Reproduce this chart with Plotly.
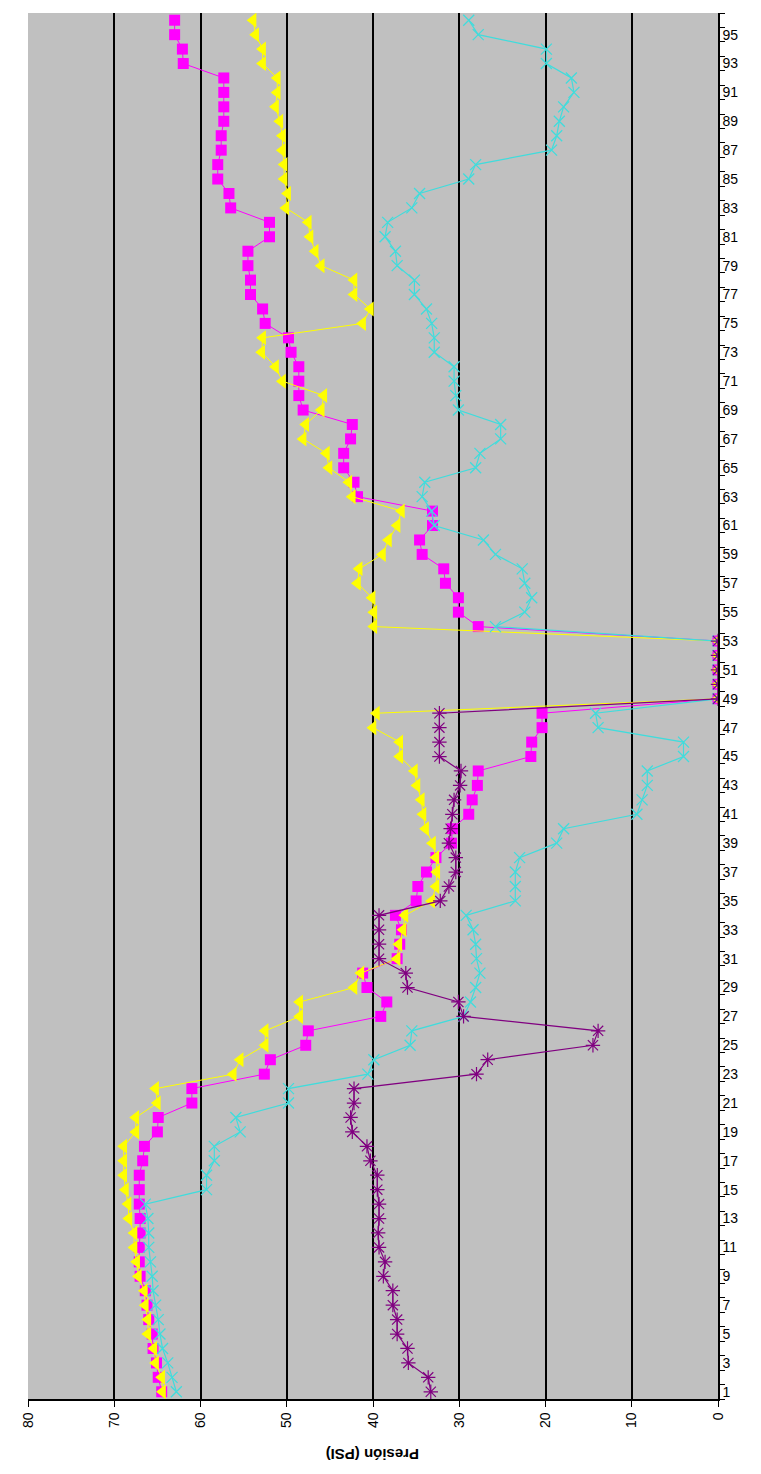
import plotly.graph_objects as go

# Categories 1..96
categorias = list(range(1, 97))
etiquetas = [str(i) for i in range(1, 96, 2)]
valores_etiquetas = list(range(1, 96, 2))

magenta = [64.5, 64.9, 65.1, 65.5, 65.6, 66.0, 66.2, 66.4, 67.0, 67.1,
           67.1, 67.0, 67.0, 67.1, 67.1, 67.1, 66.7, 66.5, 65.0, 64.9,
           61.0, 61.0, 52.6, 51.9, 47.8, 47.5, 39.1, 38.4, 40.7, 41.2,
           37.2, 36.9, 36.7, 37.4, 35.0, 34.8, 33.8, 32.7, 30.9, 30.8,
           28.9, 28.5, 27.9, 27.8, 21.7, 21.6, 20.4, 20.4, 0, 0,
           0, 0, 0, 27.8, 30.1, 30.1, 31.6, 31.8, 34.3, 34.6,
           33.1, 33.1, 41.8, 42.2, 43.4, 43.4, 42.6, 42.4, 48.1, 48.6,
           48.6, 48.6, 49.5, 49.8, 52.5, 52.8, 54.2, 54.2, 54.5, 54.5,
           52.0, 52.0, 56.5, 56.7, 58.0, 58.0, 57.6, 57.6, 57.3, 57.3,
           57.3, 57.3, 62.0, 62.1, 63.0, 63.0]

amarillo = [64.4, 64.5, 65.2, 65.4, 66.1, 66.1, 66.4, 66.5, 67.2, 67.4,
            67.7, 67.7, 68.3, 68.4, 68.7, 68.9, 68.9, 68.9, 67.5, 67.5,
            65.0, 65.2, 56.2, 55.4, 52.5, 52.5, 48.5, 48.5, 42.2, 41.4,
            37.2, 37.0, 36.5, 36.3, 33.2, 32.7, 32.6, 32.7, 33.1, 33.9,
            34.2, 34.4, 34.9, 35.2, 36.9, 36.9, 40.0, 39.6, 0, 0,
            0, 0, 0, 39.9, 39.9, 40.1, 41.8, 41.6, 38.9, 38.2,
            37.2, 36.7, 42.4, 42.8, 45.1, 45.4, 48.1, 47.8, 46.0, 45.7,
            50.5, 51.3, 52.9, 52.8, 41.2, 40.3, 42.2, 42.2, 46.0, 46.7,
            47.3, 47.5, 50.1, 49.9, 50.3, 50.3, 50.5, 50.5, 50.8, 51.3,
            51.1, 51.1, 52.8, 52.8, 53.6, 53.9]

cian = [62.8, 63.3, 63.8, 64.4, 64.7, 64.9, 65.2, 65.5, 65.6, 65.8,
        66.0, 66.0, 66.1, 66.4, 59.3, 59.3, 58.4, 58.4, 55.4, 55.9,
        49.8, 49.8, 40.6, 39.9, 35.7, 35.5, 29.5, 28.7, 28.1, 27.6,
        28.0, 28.1, 28.4, 29.2, 23.5, 23.5, 23.5, 23.0, 18.7, 17.9,
        9.4, 8.8, 8.2, 8.2, 4.0, 4.0, 13.9, 14.2, 0, 0,
        0, 0, 0, 25.8, 22.4, 21.6, 22.4, 22.7, 25.8, 27.2,
        32.9, 33.2, 34.3, 34.0, 28.1, 27.6, 25.2, 25.2, 30.1, 30.4,
        30.6, 30.6, 32.9, 32.9, 33.2, 33.8, 35.2, 35.2, 37.2, 37.4,
        38.6, 38.3, 35.5, 34.6, 28.9, 28.1, 19.3, 18.7, 18.4, 17.9,
        16.7, 17.0, 19.9, 19.9, 27.8, 28.9]

morado = [33.3, 33.6, 35.9, 36.0, 37.2, 37.2, 37.7, 37.7, 38.8, 38.6,
          39.3, 39.4, 39.3, 39.3, 39.5, 39.5, 40.3, 40.7, 42.4, 42.6,
          42.2, 42.2, 28.0, 26.7, 14.5, 13.9, 29.5, 30.1, 36.0, 36.2,
          39.3, 39.3, 39.3, 39.3, 32.2, 31.2, 30.4, 30.4, 31.2, 31.0,
          30.8, 30.6, 29.9, 29.8, 32.3, 32.3, 32.3, 32.3, 0, 0,
          0, 0, 0] + [None] * 43

ticks_presion = [0, 10, 20, 30, 40, 50, 60, 70, 80]

fig = go.Figure()

fig.add_trace(go.Scatter(
    x=magenta, y=categorias, mode="lines+markers",
    line=dict(color="#FF00FF", width=1),
    marker=dict(symbol="square", size=11, color="#FF00FF"),
    showlegend=False))
fig.add_trace(go.Scatter(
    x=amarillo, y=categorias, mode="lines+markers",
    line=dict(color="#FFFF00", width=1),
    marker=dict(symbol="triangle-left", size=13, color="#FFFF00"),
    showlegend=False))
fig.add_trace(go.Scatter(
    x=cian, y=categorias, mode="lines+markers",
    line=dict(color="#40DCDC", width=1.2),
    marker=dict(symbol="x-thin", size=11, line=dict(color="#40DCDC", width=1.3)),
    showlegend=False))
fig.add_trace(go.Scatter(
    x=morado, y=categorias, mode="lines+markers",
    line=dict(color="#800080", width=1.2),
    marker=dict(symbol="asterisk-open", size=12, line=dict(color="#800080", width=1.2)),
    showlegend=False, connectgaps=False))

fig.update_layout(
    width=761, height=1474,
    margin=dict(l=20, r=51, t=5, b=83),
    paper_bgcolor="white",
    plot_bgcolor="#C0C0C0",
    font=dict(family="Liberation Sans, Arial, sans-serif", color="black", size=13),
    xaxis=dict(
        range=[80, 0], tickvals=ticks_presion,
        ticktext=[str(v) for v in ticks_presion],
        tickangle=-90, ticks="outside", ticklen=6, tickcolor="black",
        showline=True, linecolor="black", linewidth=1.5,
        showgrid=True, gridcolor="black", gridwidth=1.5,
        zeroline=False, tickfont=dict(size=14), automargin=False),
    yaxis=dict(
        side="right", range=[0.5, 96.5],
        tickvals=valores_etiquetas, ticktext=etiquetas,
        ticks="", showgrid=False, zeroline=False,
        showline=True, linecolor="black", linewidth=1.5,
        minor=dict(tick0=0.5, dtick=1, ticks="outside", ticklen=5,
                   tickcolor="black", showgrid=False),
        tickfont=dict(size=14), automargin=False),
)

fig.add_annotation(
    text="<b>Presión (PSI)</b>", textangle=180,
    xref="paper", yref="paper", x=0.5, y=-0.0405,
    xanchor="center", yanchor="middle", showarrow=False,
    font=dict(size=15, family="Liberation Sans, Arial, sans-serif"))

fig.write_html("out.html")
